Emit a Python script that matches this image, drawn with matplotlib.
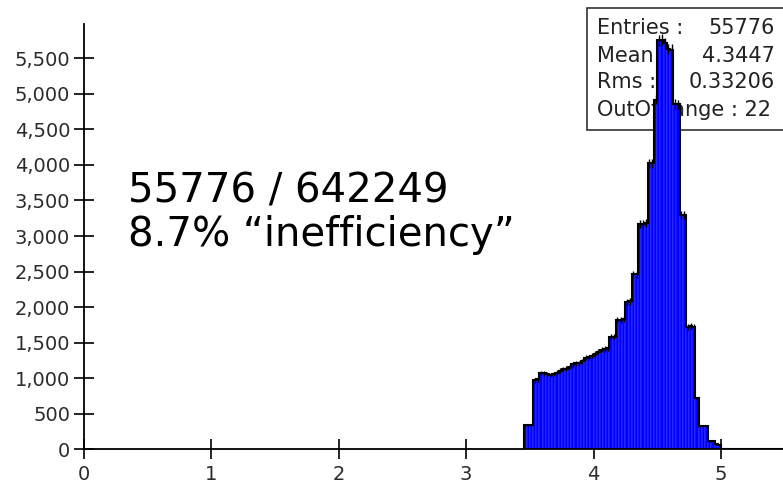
import numpy as np
import matplotlib.pyplot as plt
from matplotlib.patches import Rectangle
from matplotlib.ticker import FuncFormatter

# histogram: fixed-width bins starting at bin_start
bin_start = 3.45
bin_width = 0.025
counts = [
    340, 340, 340, 970, 985, 1075, 1070, 1060, 1046, 1060,
    1080, 1105, 1130, 1135, 1160, 1195, 1210, 1212, 1235, 1290,
    1292, 1315, 1340, 1375, 1400, 1410, 1418, 1580, 1585, 1820,
    1825, 1830, 2070, 2080, 2460, 2465, 3170, 3175, 3180, 4020,
    4025, 4920, 5750, 5760, 5710, 5630, 5620, 4860, 4850, 3300,
    3290, 1725, 1730, 1720, 715, 330, 330, 325, 120, 115,
    70, 65,
] + [0] * 20  # empty bins above 5.0

stats_labels = ["Entries :", "Mean :", "Rms :"]
stats_values = ["55776", "4.3447", "0.33206"]
out_of_range = "OutOfRange : 22"

note_line1 = "55776 / 642249"
note_line2 = "8.7% \u201cinefficiency\u201d"

x_ticks = [0, 1, 2, 3, 4, 5]
y_ticks = list(range(0, 6000, 500))

W, H = 783, 488
fig = plt.figure(figsize=(W / 100, H / 100), dpi=100)
ax = fig.add_axes([84 / W, 38.7 / H, 699 / W, 425.3 / H])

counts = np.array(counts, dtype=float)
edges = bin_start + bin_width * np.arange(len(counts) + 1)
centers = 0.5 * (edges[:-1] + edges[1:])

ax.bar(edges[:-1], counts, width=bin_width, align="edge",
       color="#0000ff", edgecolor="#5555ff", linewidth=0.35, zorder=2)
ax.stairs(counts, edges, color="black", linewidth=1.5, zorder=3)
nz = counts > 0
ax.errorbar(centers[nz], counts[nz], yerr=np.sqrt(counts[nz]), fmt="none",
            ecolor="black", elinewidth=1.0, zorder=4)

ax.set_xlim(0, 5.487)
ax.set_ylim(0, 5982)
ax.set_xticks(x_ticks)
ax.set_yticks(y_ticks)
ax.yaxis.set_major_formatter(FuncFormatter(lambda v, _: f"{int(v):,}"))

for s in ["top", "right"]:
    ax.spines[s].set_visible(False)
for s in ["left", "bottom"]:
    ax.spines[s].set_linewidth(1.3)
ax.tick_params(direction="inout", length=14, width=1.2, labelsize=14,
               labelcolor="#2b2b2b")
ax.tick_params(axis="x", pad=4)
ax.tick_params(axis="y", pad=3)

# stats box, drawn behind the histogram like in the original
tr = fig.transFigure
ax.add_patch(Rectangle((587 / W, 1 - 130 / H), 220 / W, 122 / H, transform=tr,
                       facecolor="white", edgecolor="#333333", linewidth=1.2,
                       clip_on=False, zorder=0.5))
rows_y = [34.5, 61.5, 88.5]
for lab, val, yb in zip(stats_labels, stats_values, rows_y):
    ax.text(597 / W, 1 - yb / H, lab, transform=tr, fontsize=15, color="#222222",
            va="baseline", ha="left", zorder=0.6)
    ax.text(775 / W, 1 - yb / H, val, transform=tr, fontsize=15, color="#222222",
            va="baseline", ha="right", zorder=0.6)
ax.text(597 / W, 1 - 115.5 / H, out_of_range, transform=tr, fontsize=15,
        color="#222222", va="baseline", ha="left", zorder=0.6)

fig.text(128 / W, 1 - 202 / H, note_line1, fontsize=29, va="baseline", ha="left")
fig.text(128 / W, 1 - 246 / H, note_line2, fontsize=29, va="baseline", ha="left")

fig.savefig("out.png", dpi=100)
